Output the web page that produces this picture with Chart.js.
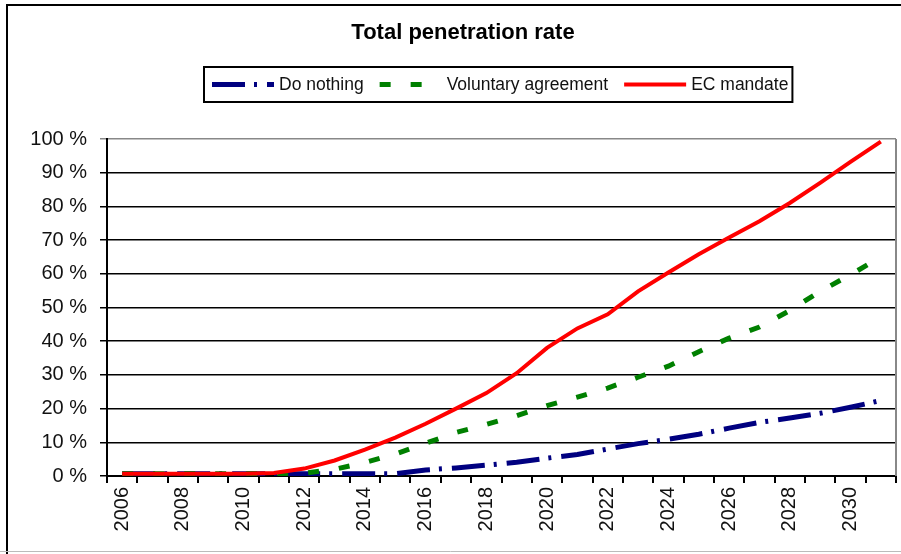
<!DOCTYPE html>
<html>
<head>
<meta charset="utf-8">
<title>Total penetration rate</title>
<script src="https://cdn.jsdelivr.net/npm/chart.js@4.4.1/dist/chart.umd.min.js"></script>
<style>
    body { margin: 0; background: #fff; }
    #wrap { width: 901px; height: 554px; }
</style>
</head>
<body>
<div id="wrap"><canvas id="penetration-chart" width="901" height="554"></canvas></div>
<script>
// years on the x axis, only every other one gets a label
const years = ['2006','2007','2008','2009','2010','2011','2012','2013','2014','2015','2016','2017','2018',
               '2019','2020','2021','2022','2023','2024','2025','2026','2027','2028','2029','2030','2031'];
const yTicks = [0, 10, 20, 30, 40, 50, 60, 70, 80, 90, 100];

// values (%)
const doNothing = [0.7, 0.7, 0.7, 0.7, 0.7, 0.7, 0.7, 0.7, 0.7, 0.7, 1.8, 2.4, 3.2,
                   4.1, 5.3, 6.4, 8.0, 9.6, 10.9, 12.4, 14.2, 15.9, 17.2, 18.6, 20.4, 22.4];
const voluntary = [0.7, 0.7, 0.7, 0.7, 0.7, 0.7, 0.8, 2.0, 4.0, 6.5, 9.7, 12.9, 15.3,
                   17.9, 20.9, 23.4, 26.1, 29.3, 32.6, 36.9, 40.9, 44.2, 49.1, 54.8, 59.7, 65.0];
const ecMandate = [0.7, 0.7, 0.7, 0.7, 0.7, 0.9, 2.2, 4.6, 7.8, 11.4, 15.5, 20.0, 24.6,
                   30.5, 38.0, 43.8, 48.0, 54.8, 60.4, 65.8, 70.8, 75.6, 81.0, 87.0, 93.2, 99.2];

const FONT = '"Liberation Sans", Arial, sans-serif';

// frame round the picture, grey right edge of the plot
const framePlugin = {
    id: 'frame',
    afterDraw(chart) {
        const ctx = chart.ctx;
        const area = chart.chartArea;
        ctx.save();
        ctx.lineWidth = 2;
        ctx.strokeStyle = '#000';
        ctx.beginPath();
        ctx.moveTo(7, 554);
        ctx.lineTo(7, 5);
        ctx.lineTo(901, 5);
        ctx.stroke();
        ctx.strokeStyle = '#bbb';
        ctx.lineWidth = 1;
        ctx.beginPath();
        ctx.moveTo(0, 551.5);
        ctx.lineTo(901, 551.5);
        ctx.stroke();
        ctx.strokeStyle = '#888';
        ctx.lineWidth = 2;
        ctx.beginPath();
        ctx.moveTo(area.right, area.top);
        ctx.lineTo(area.right, area.bottom);
        ctx.stroke();
        ctx.restore();
    }
};

// boxed legend above the plot
const legendPlugin = {
    id: 'boxLegend',
    afterDraw(chart) {
        const ctx = chart.ctx;
        const area = chart.chartArea;
        const sampleW = 62, gapText = 5, gapItem = 16, padL = 8, padR = 4;
        const top = 67, bottom = 102, midY = 84.5;
        ctx.save();
        ctx.font = '17.5px ' + FONT;
        const items = chart.data.datasets.map(ds => ({ ds: ds, w: ctx.measureText(ds.label).width }));
        let total = padL + padR + gapItem * (items.length - 1);
        items.forEach(it => { total += sampleW + gapText + it.w; });
        const left = Math.round((area.left + area.right) / 2 - 3 - total / 2);

        ctx.lineWidth = 2;
        ctx.strokeStyle = '#000';
        ctx.strokeRect(left, top, total, bottom - top);

        let x = left + padL;
        items.forEach(it => {
            ctx.strokeStyle = it.ds.borderColor;
            ctx.lineWidth = it.ds.borderWidth;
            ctx.setLineDash(it.ds.borderDash || []);
            ctx.beginPath();
            ctx.moveTo(x, midY);
            ctx.lineTo(x + sampleW, midY);
            ctx.stroke();
            ctx.setLineDash([]);
            x += sampleW + gapText;
            ctx.fillStyle = '#111';
            ctx.textBaseline = 'middle';
            ctx.textAlign = 'left';
            ctx.fillText(it.ds.label, x, midY + 1);
            x += it.w + gapItem;
        });
        ctx.restore();
    }
};

const ctx = document.getElementById('penetration-chart').getContext('2d');
new Chart(ctx, {
    type: 'line',
    data: {
        labels: years,
        datasets: [{
            label: 'Do nothing',
            data: doNothing,
            borderColor: '#000080',
            borderWidth: 5,
            borderDash: [33, 9, 3, 10],
            order: 3
        }, {
            label: 'Voluntary agreement',
            data: voluntary,
            borderColor: '#008000',
            borderWidth: 5,
            borderDash: [11, 20],
            order: 2
        }, {
            label: 'EC mandate',
            data: ecMandate,
            borderColor: '#ff0000',
            borderWidth: 4,
            order: 1
        }]
    },
    options: {
        responsive: false,
        animation: false,
        elements: {
            point: { radius: 0 },
            line: { tension: 0, borderCapStyle: 'butt', fill: false }
        },
        layout: { padding: { left: 30, right: 5, top: 0, bottom: 10 } },
        plugins: {
            legend: { display: false },
            tooltip: { enabled: false },
            title: {
                display: true,
                text: 'Total penetration rate',
                color: '#000',
                font: { family: FONT, size: 22, weight: 'bold' },
                padding: { top: 20, bottom: 92.6 }
            }
        },
        scales: {
            x: {
                type: 'category',
                offset: true,
                grid: { offset: true, drawOnChartArea: false, tickLength: 7, color: '#000', lineWidth: 2 },
                border: { color: '#000', width: 2 },
                ticks: {
                    autoSkip: false,
                    minRotation: 90,
                    maxRotation: 90,
                    padding: 4,
                    color: '#111',
                    font: { family: FONT, size: 20 },
                    callback: function(value, index) {
                        return index % 2 === 0 ? years[index] : '';
                    }
                },
                afterFit: function(scale) {
                    scale.height = 68;
                    scale.paddingLeft = 0;
                    scale.paddingRight = 0;
                }
            },
            y: {
                min: yTicks[0],
                max: yTicks[yTicks.length - 1],
                afterBuildTicks: function(scale) {
                    scale.ticks = yTicks.map(v => ({ value: v }));
                },
                grid: {
                    tickLength: 7,
                    lineWidth: 1.5,
                    color: function(c) { return c.tick && c.tick.value === 100 ? '#888' : '#000'; }
                },
                border: { color: '#000', width: 2 },
                ticks: {
                    padding: 13,
                    color: '#111',
                    font: { family: FONT, size: 20 },
                    callback: function(value) { return value + ' %'; }
                },
                afterFit: function(scale) { scale.width = 77; }
            }
        }
    },
    plugins: [framePlugin, legendPlugin]
});
</script>
</body>
</html>
